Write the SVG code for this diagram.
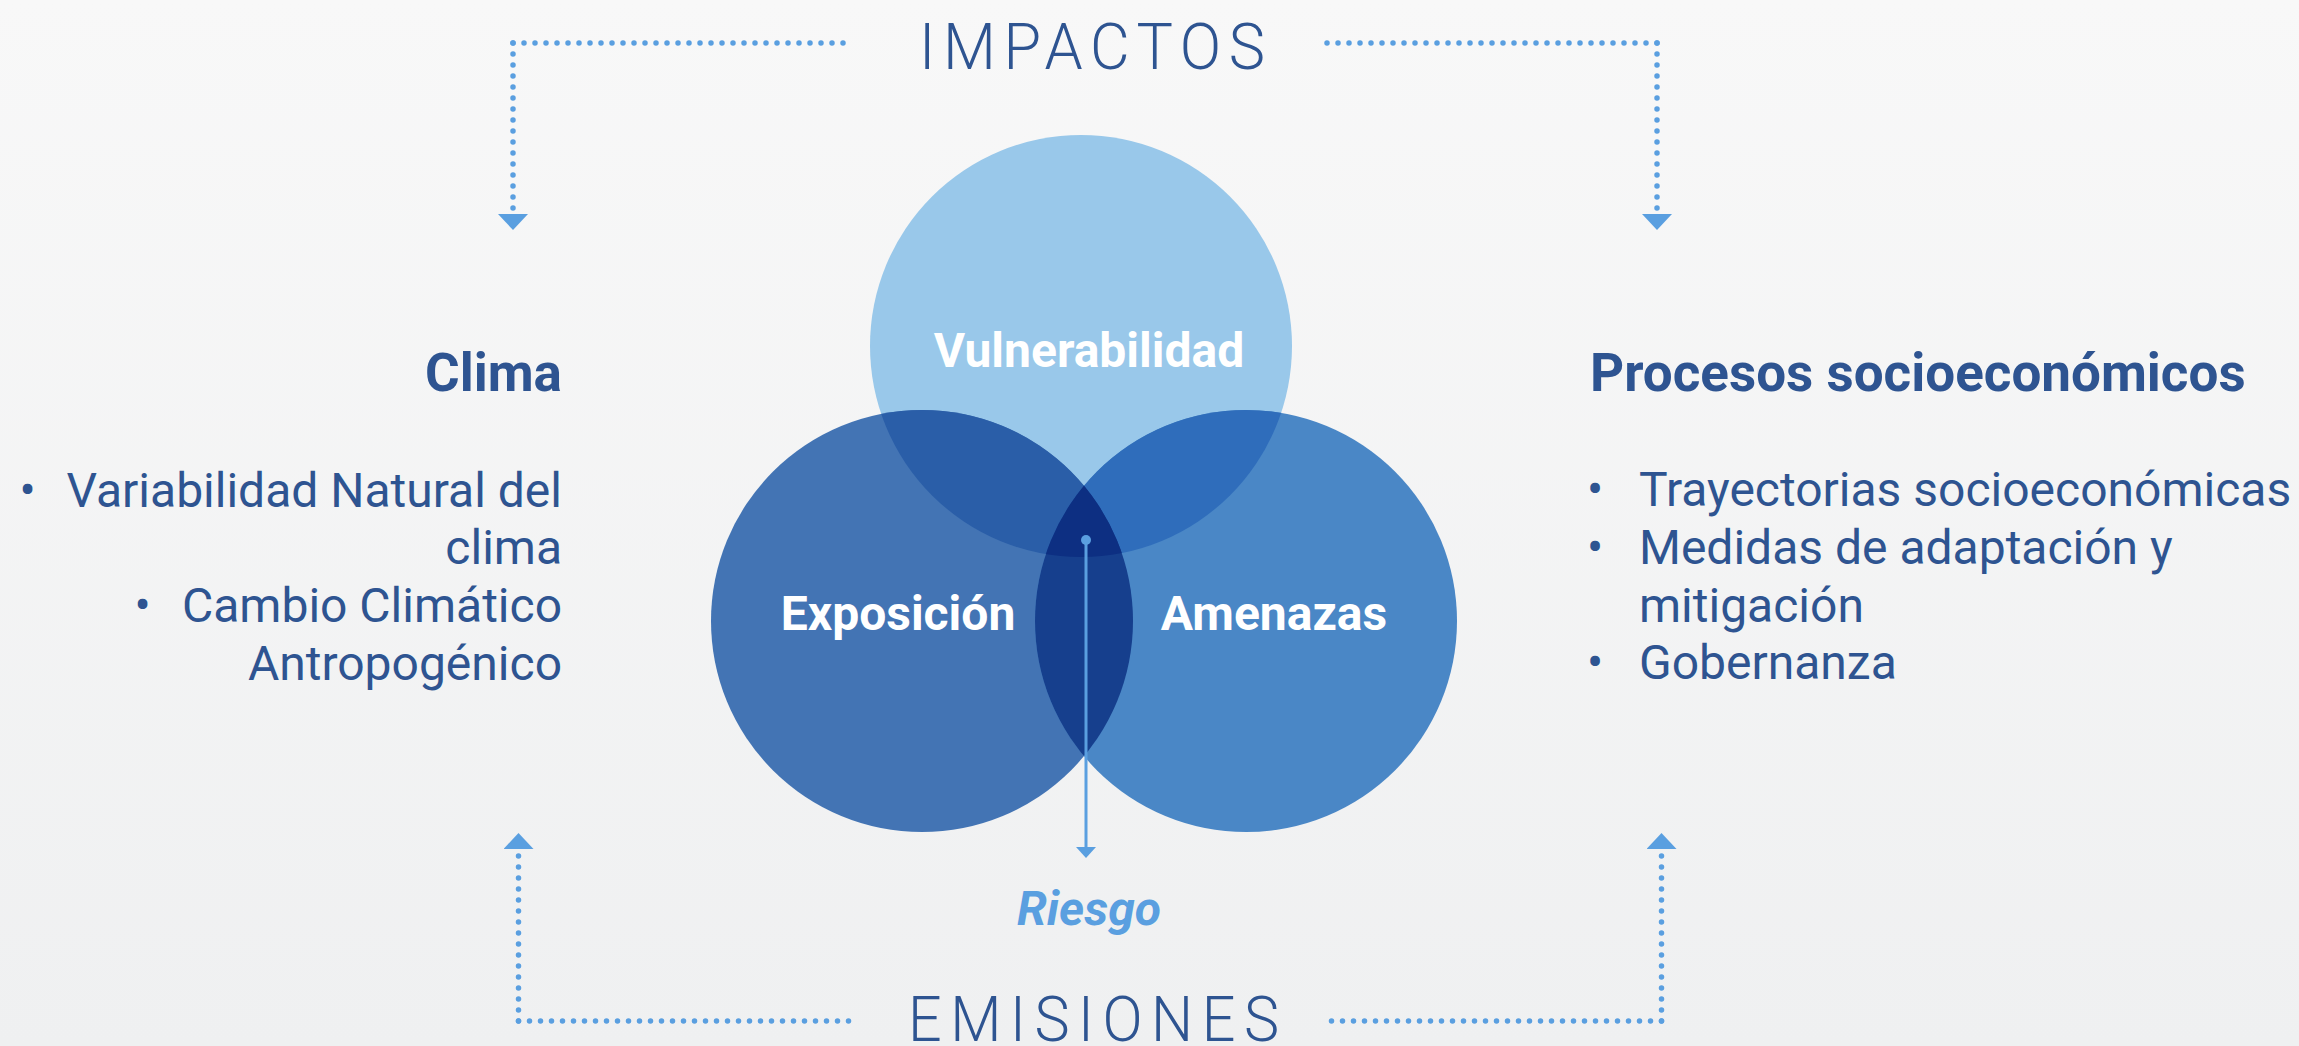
<svg xmlns="http://www.w3.org/2000/svg" width="2299" height="1046" viewBox="0 0 2299 1046">
  <defs>
    <linearGradient id="bg" x1="0" y1="0" x2="0" y2="1">
      <stop offset="0" stop-color="#F8F8F8"/>
      <stop offset="1" stop-color="#EFF0F1"/>
    </linearGradient>
    <clipPath id="clipTop"><circle cx="1081" cy="346" r="211"/></clipPath>
    <clipPath id="clipLeft"><circle cx="922" cy="621" r="211"/></clipPath>
    <clipPath id="clipRight"><circle cx="1246" cy="621" r="211"/></clipPath>
    <marker id="bigArrow" viewBox="0 0 16 30" refX="0" refY="15" markerWidth="16" markerHeight="30" markerUnits="userSpaceOnUse" orient="auto">
      <path d="M0,0 L16,15 L0,30 Z" fill="#5A9FE0"/>
    </marker>
    <marker id="smallArrow" viewBox="0 0 11 20" refX="0" refY="10" markerWidth="11" markerHeight="20" markerUnits="userSpaceOnUse" orient="auto">
      <path d="M0,0 L11,10 L0,20 Z" fill="#5A9FE0"/>
    </marker>
    <style>
      .dots { fill: none; stroke: #5A9FE0; stroke-width: 5.5; stroke-linecap: round; stroke-dasharray: 0 11; }
      .title { font-family: Roboto, "Liberation Sans", sans-serif; font-weight: 300; fill: #2E5491; }
      .head { font-family: Roboto, "Liberation Sans", sans-serif; font-weight: 700; font-size: 53px; fill: #2E5491; }
      .item { font-family: Roboto, "Liberation Sans", sans-serif; font-weight: 400; font-size: 48px; fill: #2E5491; }
      .clabel { font-family: Roboto, "Liberation Sans", sans-serif; font-weight: 700; font-size: 48px; fill: #FFFFFF; text-anchor: middle; }
      .riesgo { font-family: Roboto, "Liberation Sans", sans-serif; font-weight: 700; font-style: italic; font-size: 48px; fill: #5A9FE0; text-anchor: middle; }
    </style>
  </defs>

  <rect x="0" y="0" width="2299" height="1046" fill="url(#bg)"/>

  <!-- Venn circles -->
  <g id="venn">
    <g id="node-vulnerabilidad">
      <circle cx="1081" cy="346" r="211" fill="#99C8EA"/>
    </g>
    <g id="node-exposicion">
      <circle cx="922" cy="621" r="211" fill="#4374B4"/>
    </g>
    <g id="node-amenazas">
      <circle cx="1246" cy="621" r="211" fill="#4A87C6"/>
    </g>
    <g id="overlaps">
      <circle cx="1081" cy="346" r="211" fill="#2A5EA8" clip-path="url(#clipLeft)"/>
      <circle cx="1081" cy="346" r="211" fill="#2F6DBB" clip-path="url(#clipRight)"/>
      <circle cx="922" cy="621" r="211" fill="#163F8D" clip-path="url(#clipRight)"/>
      <g clip-path="url(#clipTop)">
        <circle cx="922" cy="621" r="211" fill="#0D2F82" clip-path="url(#clipRight)"/>
      </g>
    </g>
    <text class="clabel" x="1089" y="367">Vulnerabilidad</text>
    <text class="clabel" x="898" y="630">Exposición</text>
    <text class="clabel" x="1274" y="630">Amenazas</text>
  </g>

  <!-- Connectors -->
  <g id="connectors">
    <path class="dots" d="M513,43 H850"/>
    <path class="dots" d="M513,43 V214" marker-end="url(#bigArrow)"/>
    <path class="dots" d="M1657,43 H1322"/>
    <path class="dots" d="M1657,43 V214" marker-end="url(#bigArrow)"/>
    <path class="dots" d="M518.5,1021 H856"/>
    <path class="dots" d="M518.5,1021 V849" marker-end="url(#bigArrow)"/>
    <path class="dots" d="M1661.5,1021 H1327"/>
    <path class="dots" d="M1661.5,1021 V849" marker-end="url(#bigArrow)"/>
    <circle cx="1086" cy="540" r="5" fill="#5A9FE0"/>
    <path d="M1086,540 V847" stroke="#5A9FE0" stroke-width="3" fill="none" marker-end="url(#smallArrow)"/>
  </g>

  <g id="node-impactos">
    <text class="title" transform="scale(0.94,1)" x="977.7" y="69" font-size="65" textLength="368" lengthAdjust="spacing">IMPACTOS</text>
  </g>
  <g id="node-emisiones">
    <text class="title" transform="scale(0.94,1)" x="966" y="1041" font-size="63" textLength="394.7" lengthAdjust="spacing">EMISIONES</text>
  </g>

  <g id="node-riesgo">
    <text class="riesgo" x="1089" y="925">Riesgo</text>
  </g>

  <g id="node-clima">
    <text class="head" x="562" y="391" text-anchor="end">Clima</text>
    <text class="item" x="27.5" y="506.7" text-anchor="middle">•</text>
    <text class="item" x="562" y="506.7" text-anchor="end">Variabilidad Natural del</text>
    <text class="item" x="562" y="564" text-anchor="end">clima</text>
    <text class="item" x="142.7" y="621.7" text-anchor="middle">•</text>
    <text class="item" x="562" y="621.7" text-anchor="end">Cambio Climático</text>
    <text class="item" x="562" y="680" text-anchor="end">Antropogénico</text>
  </g>

  <g id="node-procesos">
    <text class="head" x="1590" y="391">Procesos socioeconómicos</text>
    <text class="item" x="1595" y="505.7" text-anchor="middle">•</text>
    <text class="item" x="1639" y="505.7">Trayectorias socioeconómicas</text>
    <text class="item" x="1595" y="564" text-anchor="middle">•</text>
    <text class="item" x="1639" y="564">Medidas de adaptación y</text>
    <text class="item" x="1639" y="621.7">mitigación</text>
    <text class="item" x="1595" y="679" text-anchor="middle">•</text>
    <text class="item" x="1639" y="679">Gobernanza</text>
  </g>
</svg>
